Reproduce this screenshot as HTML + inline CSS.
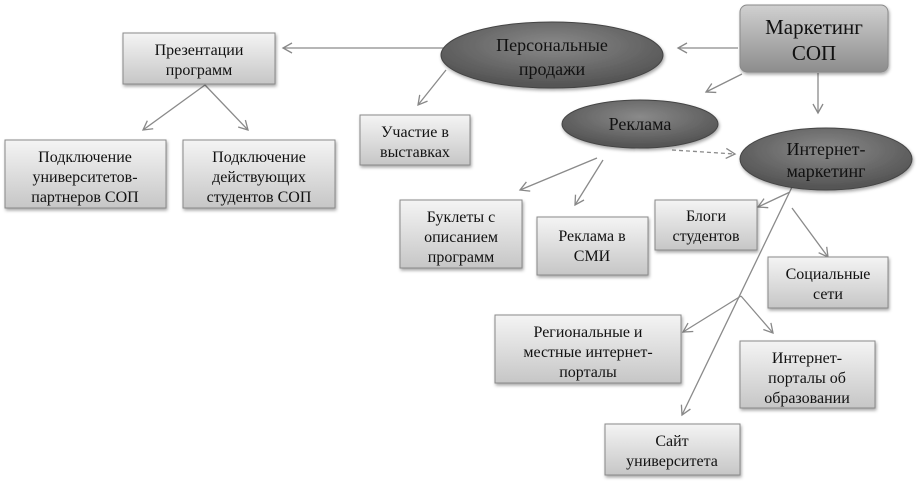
<!DOCTYPE html>
<html><head><meta charset="utf-8"><style>
body{margin:0;background:#fff;}
svg{display:block;}
text{font-family:"Liberation Serif",serif;fill:#111;text-anchor:middle;}
</style></head><body>
<svg width="922" height="482" viewBox="0 0 922 482" xmlns="http://www.w3.org/2000/svg">
<defs>
<linearGradient id="bx" x1="0" y1="0" x2="0" y2="1"><stop offset="0" stop-color="#f4f4f4"/><stop offset="1" stop-color="#c6c6c6"/></linearGradient>
<linearGradient id="mk" x1="0" y1="0" x2="0" y2="1"><stop offset="0" stop-color="#d0d0d0"/><stop offset="1" stop-color="#8c8c8c"/></linearGradient>
<radialGradient id="el" cx="0.5" cy="0.35" r="0.6"><stop offset="0" stop-color="#8a8a8a"/><stop offset="1" stop-color="#555"/></radialGradient>
<filter id="sh" x="-10%" y="-10%" width="130%" height="140%"><feDropShadow dx="1" dy="2" stdDeviation="1.5" flood-color="#000" flood-opacity="0.35"/></filter>
<marker id="ar" markerWidth="12" markerHeight="12" refX="10" refY="6" orient="auto" markerUnits="userSpaceOnUse"><path d="M1,1 L10,6 L1,11" fill="none" stroke="#888" stroke-width="1.3"/></marker>
</defs>
<g stroke="#8a8a8a" stroke-width="1.3" fill="none" marker-end="url(#ar)">
<line x1="738" y1="48" x2="678" y2="48"/>
<line x1="742" y1="74" x2="706" y2="92"/>
<line x1="818" y1="73" x2="818" y2="113"/>
<line x1="445" y1="48" x2="283" y2="48"/>
<line x1="446" y1="70" x2="418" y2="105"/>
<line x1="205" y1="85" x2="143" y2="130"/>
<line x1="205" y1="85" x2="248" y2="130"/>
<line x1="597" y1="158" x2="520" y2="190"/>
<line x1="603" y1="160" x2="575" y2="205"/>
<line x1="672" y1="150" x2="735" y2="154" stroke-dasharray="4,3"/>
<line x1="790" y1="192" x2="758" y2="207"/>
<line x1="792" y1="208" x2="828" y2="257"/>
<line x1="792" y1="187" x2="682" y2="415"/>
<line x1="741" y1="296" x2="683" y2="332"/>
<line x1="741" y1="296" x2="773" y2="333"/>
</g>
<g stroke="#8a8a8a" stroke-width="1" filter="url(#sh)">
<rect x="123" y="33" width="152" height="51" fill="url(#bx)"/>
<rect x="5" y="140" width="161" height="68" fill="url(#bx)"/>
<rect x="183" y="140" width="152" height="68" fill="url(#bx)"/>
<rect x="360" y="115" width="110" height="50" fill="url(#bx)"/>
<rect x="400" y="200" width="122" height="68" fill="url(#bx)"/>
<rect x="537" y="217" width="111" height="58" fill="url(#bx)"/>
<rect x="655" y="200" width="102" height="50" fill="url(#bx)"/>
<rect x="768" y="257" width="120" height="51" fill="url(#bx)"/>
<rect x="495" y="315" width="186" height="68" fill="url(#bx)"/>
<rect x="740" y="341" width="135" height="67" fill="url(#bx)"/>
<rect x="605" y="424" width="135" height="51" fill="url(#bx)"/>
<rect x="740" y="5" width="148" height="67" rx="7" fill="url(#mk)"/>
<ellipse cx="552" cy="55" rx="111" ry="33" fill="url(#el)" stroke="#444"/>
<ellipse cx="640" cy="124" rx="78" ry="24" fill="url(#el)" stroke="#444"/>
<ellipse cx="826" cy="159" rx="86" ry="31" fill="url(#el)" stroke="#444"/>
</g>
<g font-size="16">
<text x="199" y="55">Презентации</text><text x="199" y="75">программ</text>
<text x="85" y="162">Подключение</text><text x="85" y="182">университетов-</text><text x="85" y="202">партнеров СОП</text>
<text x="259" y="162">Подключение</text><text x="259" y="182">действующих</text><text x="259" y="202">студентов СОП</text>
<text x="415" y="137">Участие в</text><text x="415" y="157">выставках</text>
<text x="461" y="222">Буклеты с</text><text x="461" y="242">описанием</text><text x="461" y="262">программ</text>
<text x="592" y="241">Реклама в</text><text x="592" y="261">СМИ</text>
<text x="706" y="221">Блоги</text><text x="706" y="241">студентов</text>
<text x="828" y="279">Социальные</text><text x="828" y="299">сети</text>
<text x="588" y="337">Региональные и</text><text x="588" y="357">местные интернет-</text><text x="588" y="377">порталы</text>
<text x="807" y="363">Интернет-</text><text x="807" y="383">порталы об</text><text x="807" y="403">образовании</text>
<text x="672" y="446">Сайт</text><text x="672" y="466">университета</text>
</g>
<g font-size="21">
<text x="814" y="34">Маркетинг</text><text x="814" y="60">СОП</text>
</g>
<g font-size="18">
<text x="552" y="51">Персональные</text><text x="552" y="75">продажи</text>
<text x="640" y="130">Реклама</text>
<text x="826" y="155">Интернет-</text><text x="826" y="177">маркетинг</text>
</g>
</svg>
</body></html>
